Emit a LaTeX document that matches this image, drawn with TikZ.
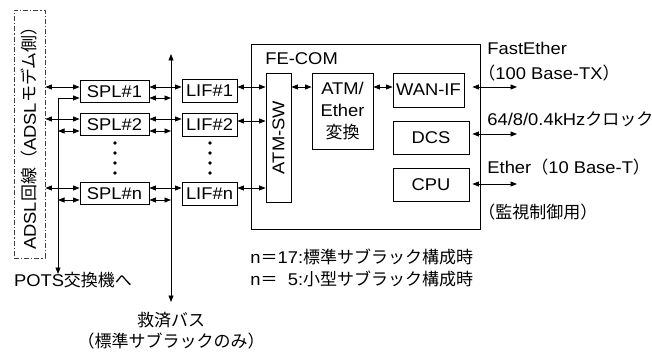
\documentclass[tikz,border=0pt]{standalone}
\usepackage{fontspec}
\setmainfont{Liberation Sans}[FakeStretch=1.08]
\newfontfamily\jpf{Noto Sans CJK JP}
\newcommand\J[1]{{\jpf #1}}
\usetikzlibrary{arrows.meta}
\begin{document}
\begin{tikzpicture}[x=1pt,y=-1pt,
  >={Triangle[length=6.5pt,width=5pt]},
  line width=0.8pt,
  every node/.style={font=\fontsize{17}{22}\selectfont, inner sep=0pt},
  blk/.style={draw, rectangle, line width=0.8pt},
  lbl/.style={anchor=west},
  dotc/.style={circle, fill, minimum size=3.8pt}]
\useasboundingbox (0,0) rectangle (652,352);
% rows
\coordinate (r1u) at (0,87);  \coordinate (r1l) at (0,98);
\coordinate (r2u) at (0,119); \coordinate (r2l) at (0,131);
\coordinate (rnu) at (0,188); \coordinate (rnl) at (0,200);
% dashed ADSL box
\node[draw=black!75, dash pattern=on 5pt off 2pt on 1.2pt off 2pt, minimum width=31pt, minimum height=248pt] (adsl) at (29.5,134) {};
\node[rotate=90] (adsltxt) at (adsl.center) {ADSL\J{回線（}ADSL\J{モデム側）}};
% SPL
\node[blk, minimum width=69pt, minimum height=22pt] (spl1) at (114.5,91.5) {SPL\#1};
\node[blk, minimum width=69pt, minimum height=22pt] (spl2) at (114.5,124.5) {SPL\#2};
\node[blk, minimum width=69pt, minimum height=22pt] (spln) at (114.5,193.5) {SPL\#n};
% LIF
\node[blk, minimum width=55pt, minimum height=23pt] (lif1) at (209.5,91) {LIF\#1};
\node[blk, minimum width=55pt, minimum height=23pt] (lif2) at (209.5,124.5) {LIF\#2};
\node[blk, minimum width=55pt, minimum height=23pt] (lifn) at (209.5,193.5) {LIF\#n};
% FE-COM
\node[blk, minimum width=229pt, minimum height=185pt] (fecom) at (365.5,136.5) {};
\node[anchor=west] (fecomlbl) at (265,59) {FE-COM};
\node[blk, minimum width=25pt, minimum height=129pt] (atmsw) at (278.5,137.5) {};
\node[rotate=90] (atmswtxt) at (atmsw.center) {ATM-SW};
\node[blk, minimum width=61pt, minimum height=76pt, align=center] (conv) at (342.5,111) {ATM/\\Ether\\\J{変換}};
\node[blk, minimum width=71pt, minimum height=34pt] (wan) at (428.5,90) {WAN-IF};
\node[blk, minimum width=76pt, minimum height=33pt] (dcs) at (431,137.5) {DCS};
\node[blk, minimum width=76pt, minimum height=33pt] (cpu) at (431,184.5) {CPU};
% dots
\foreach \yy in {143,153,163,173}{
  \node[dotc] at (115,\yy) {};
  \node[dotc] at (210,\yy) {};
}
% bus & POTS line
\coordinate (bustop) at (171,54);
\coordinate (busbot) at (171,302);
\coordinate (potsend) at (58,274);
\draw[<->] (bustop) -- (busbot);
\draw[<->] (spl1.west |- r1l) -| (potsend);
\draw[<->] (potsend |- r2l) -- (spl2.west |- r2l);
\draw[<->] (potsend |- rnl) -- (spln.west |- rnl);
% ADSL to SPL
\draw[<->] (adsl.east |- r1u) -- (spl1.west |- r1u);
\draw[<->] (adsl.east |- r2u) -- (spl2.west |- r2u);
\draw[<->] (adsl.east |- rnu) -- (spln.west |- rnu);
% SPL to LIF
\draw[<->] (spl1.east |- r1u) -- (lif1.west |- r1u);
\draw[<->] (spl2.east |- r2u) -- (lif2.west |- r2u);
\draw[<->] (spln.east |- rnu) -- (lifn.west |- rnu);
% SPL to bus
\draw[<->] (spl1.east |- r1l) -- (bustop |- r1l);
\draw[<->] (spl2.east |- r2l) -- (bustop |- r2l);
\draw[<->] (spln.east |- rnl) -- (bustop |- rnl);
% LIF to ATM-SW
\draw[<->] (lif1.east |- r1u) -- (atmsw.west |- r1u);
\draw[<->] (lif2.east |- 0,121) -- (atmsw.west |- 0,121);
\draw[<->] (lifn.east |- rnu) -- (atmsw.west |- rnu);
% inside FE-COM
\draw[<->] (atmsw.east |- r1u) -- (conv.west |- r1u);
\draw[<->] (conv.east |- r1u) -- (wan.west |- r1u);
% outputs
\coordinate (o1) at (517,87);
\coordinate (o2) at (517,134);
\coordinate (o3) at (517,184);
\draw[<->] ([xshift=8pt]wan.east |- o1) -- (o1);
\draw[<->] ([xshift=3pt]dcs.east |- o2) -- (o2);
\draw[<->] ([xshift=3pt]cpu.east |- o3) -- (o3);
% labels right
\node[lbl] (t1) at (487,48) {FastEther};
\node[lbl] (t2) at (478,73) {\J{（}100 Base-TX\J{）}};
\node[lbl] (t3) at (487,119) {64/8/0.4kHz\J{クロック}};
\node[lbl] (t4) at (487,167) {Ether\J{（}10 Base-T\J{）}};
\node[lbl] (t5) at (478,212) {\J{（監視制御用）}};
% bottom notes
\node[lbl] (n1) at (250,257) {n\J{＝}17:\J{標準サブラック構成時}};
\node[lbl] (n2) at (250,279) {n\J{＝}\hphantom{1}5:\J{小型サブラック構成時}};
\node (pots) at (73,280) {POTS\J{交換機へ}};
\node (bus1) at (171,320) {\J{救済バス}};
\node (bus2) at (171,341) {\J{（標準サブラックのみ）}};
\end{tikzpicture}
\end{document}
